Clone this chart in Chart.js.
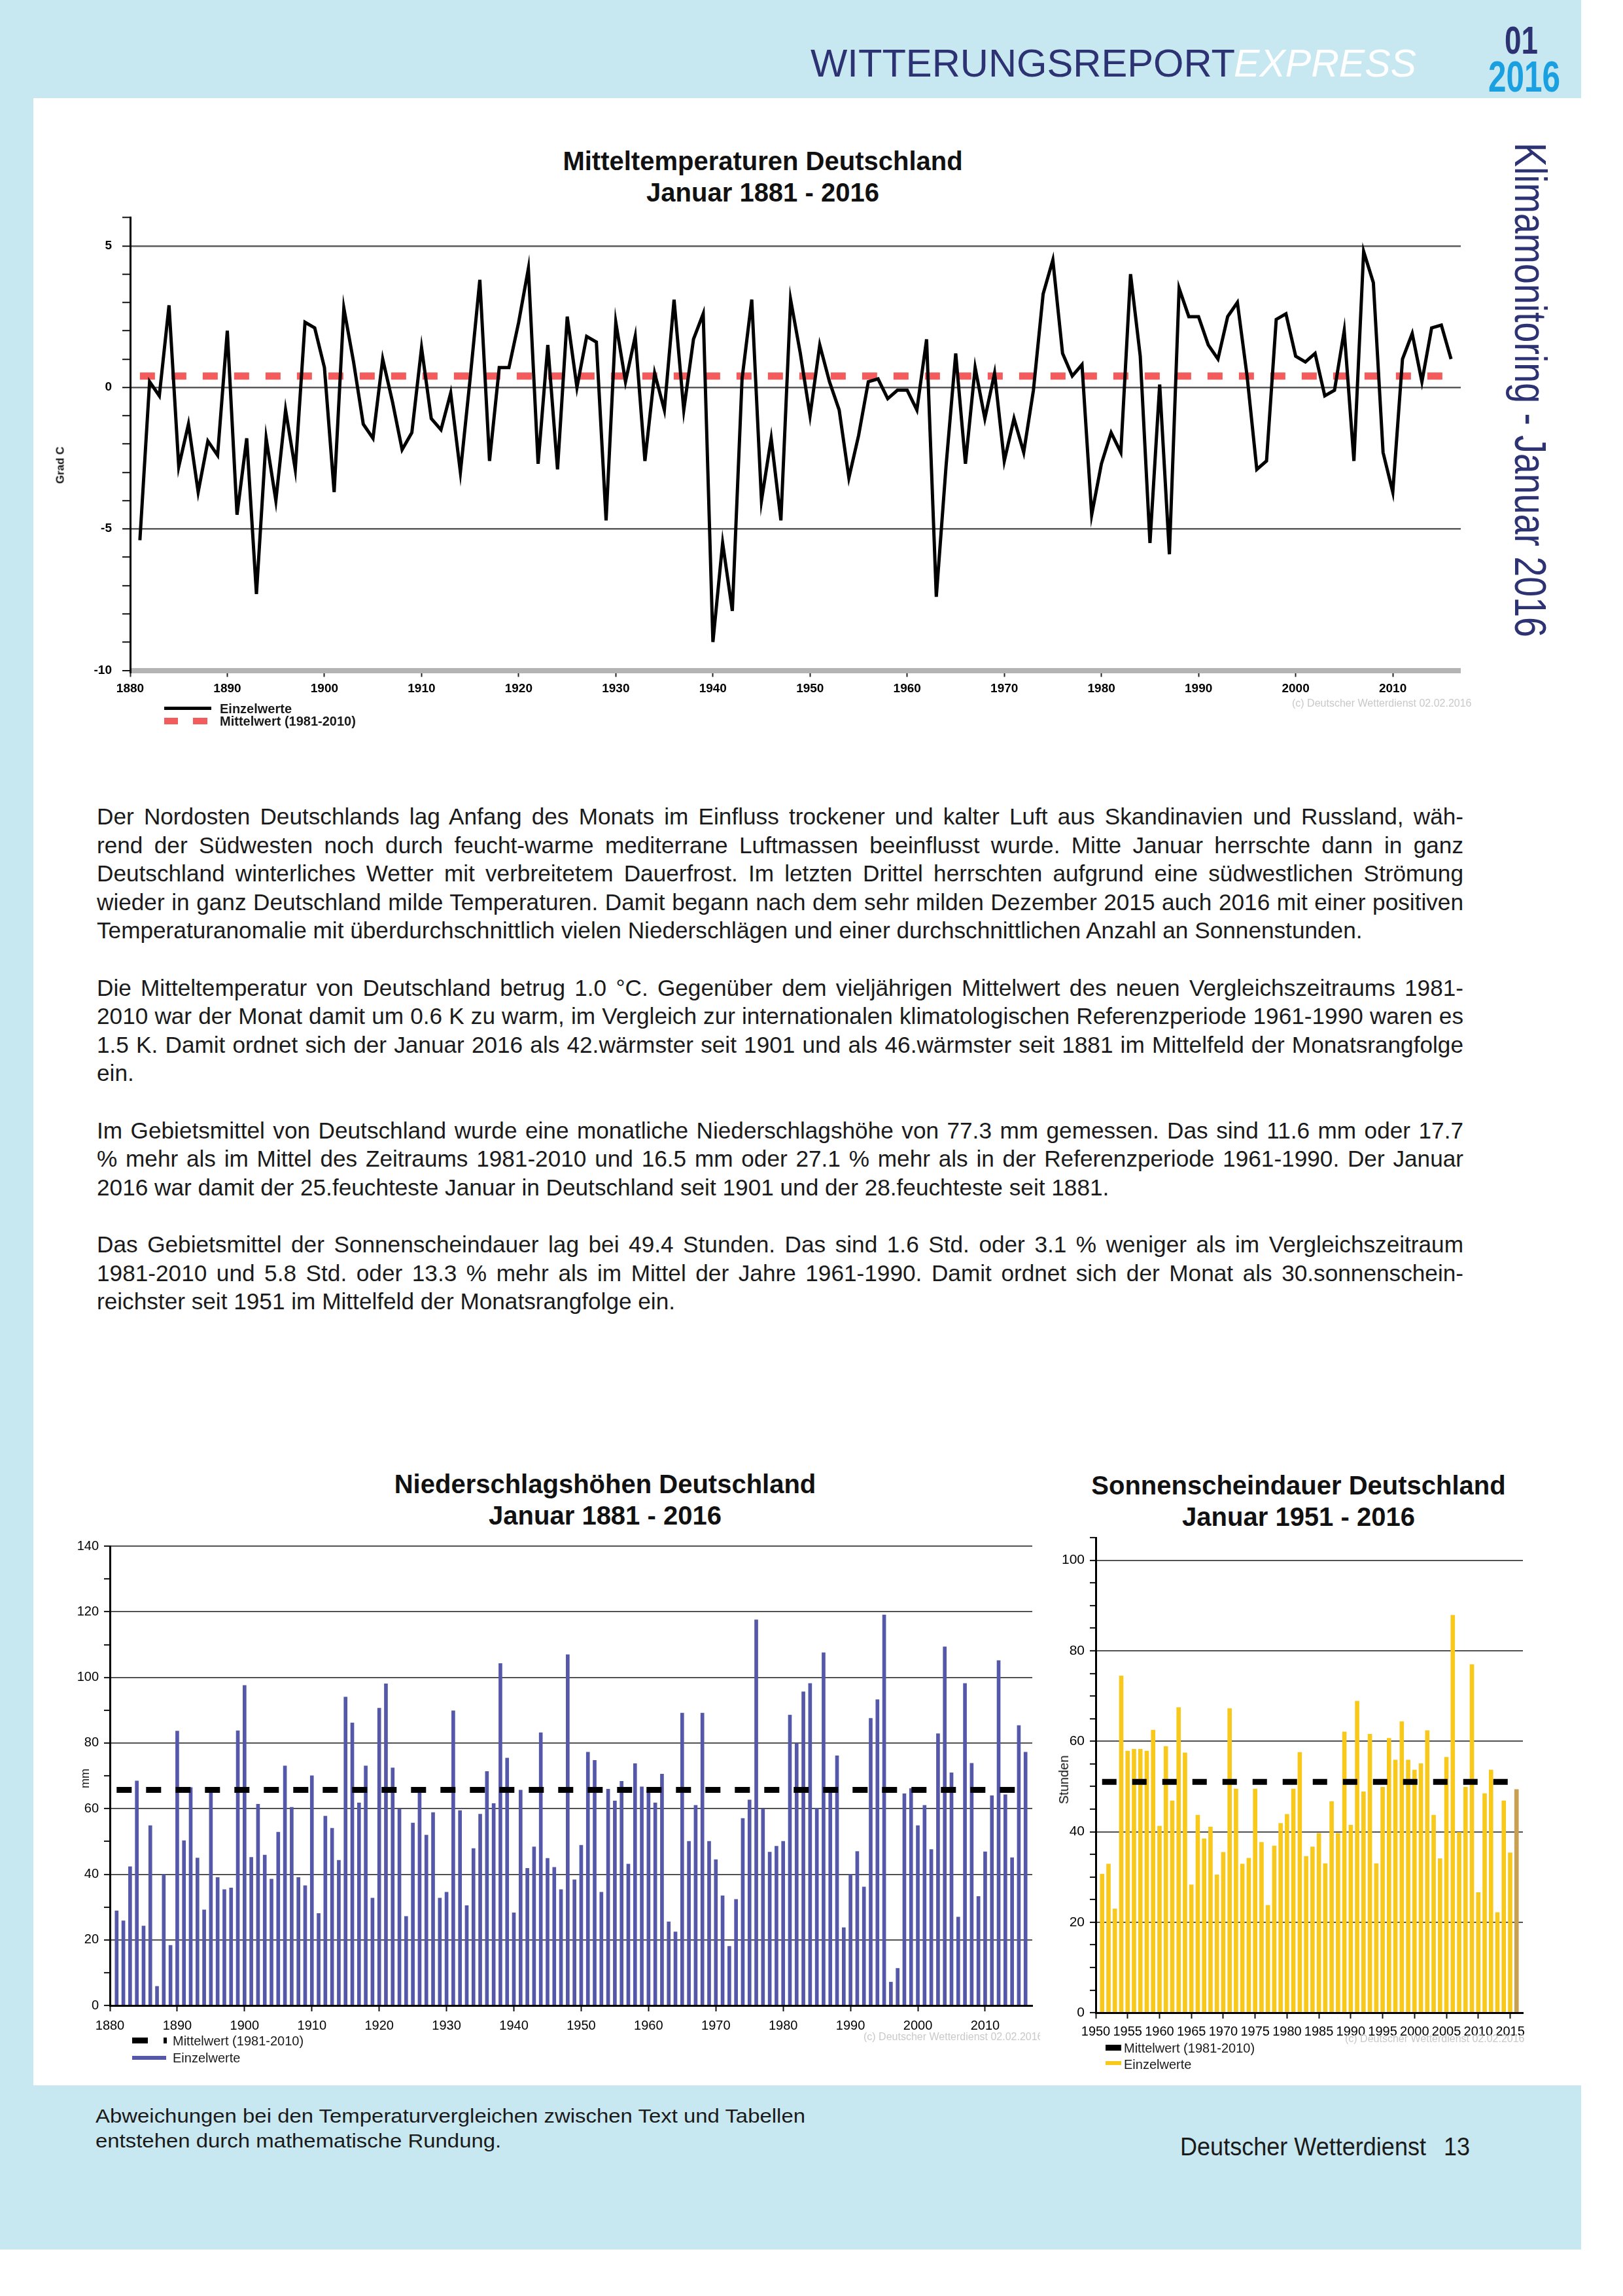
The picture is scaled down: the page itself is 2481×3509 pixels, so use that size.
<!DOCTYPE html>
<html lang="de">
<head>
<meta charset="UTF-8">
<title>Witterungsreport Express 01/2016</title>
<style>
  html, body { margin: 0; padding: 0; }
  body {
    width: 2481px; height: 3509px; position: relative; overflow: hidden;
    background: #fff; color: #1a1a1a;
    font-family: "Liberation Sans", Arial, Helvetica, sans-serif;
  }
  .band { position: absolute; background: #c8e8f1; }
  .abs { position: absolute; white-space: nowrap; line-height: 1; }
  canvas { position: absolute; }
  .title {
    position: absolute; font-weight: bold; font-size: 40px; line-height: 48px;
    text-align: center; white-space: nowrap; transform: translateX(-50%); color: #111;
  }
  .ytitle { position: absolute; white-space: nowrap; line-height: 1; transform: translate(-50%, -50%) rotate(-90deg); color: #111; }
  .sw { position: absolute; }
  .copy { position: absolute; overflow: hidden; white-space: nowrap; font-size: 16px; line-height: 1; color: #c9c9c9; }
  #text { position: absolute; left: 148px; top: 1226px; width: 2089px; line-height: 43.6px; font-size: 34px; }
  #text .j { text-align: justify; text-align-last: justify; }
  #text .gap { height: 43.6px; }
</style>
<script src="https://cdn.jsdelivr.net/npm/chart.js"></script>
</head>
<body>

<div class="band" style="left:0;top:0;width:2417px;height:150px"></div>
<div class="band" style="left:0;top:0;width:51px;height:3438px"></div>
<div class="band" style="left:0;top:3187px;width:2417px;height:251px"></div>

<div class="abs fit" id="hWit" data-w="649" style="left:1239px;top:67px;font-size:60px;color:#2d3272">WITTERUNGSREPORT</div>
<div class="abs fit" id="hExp" data-w="279" style="left:1886px;top:67px;font-size:60px;font-style:italic;color:#fff">EXPRESS</div>
<div class="abs fit" data-w="51" style="left:2300px;top:32px;font-size:60px;font-weight:bold;color:#2d3272">01</div>
<div class="abs fit" data-w="110" style="left:2275px;top:84px;font-size:66px;font-weight:bold;color:#1a9fe0">2016</div>
<div class="abs" id="vert" style="left:2374px;top:218px;font-size:68px;color:#2d3272">Klimamonitoring - Januar 2016</div>

<!-- Temperatur -->
<div class="title" style="left:1166px;top:222px">Mitteltemperaturen Deutschland<br>Januar 1881 - 2016</div>
<canvas id="tempChart" width="2200" height="850" style="left:100px;top:300px"></canvas>
<div class="ytitle" style="left:92px;top:711px;font-size:17px;font-weight:bold">Grad C</div>
<div class="sw" style="left:251px;top:1080px;width:72px;height:4.5px;background:#000"></div>
<div class="abs" style="left:336px;top:1073px;font-size:20px;font-weight:bold">Einzelwerte</div>
<div class="sw" style="left:251px;top:1097px;width:21px;height:10px;background:#f25c5c"></div>
<div class="sw" style="left:295px;top:1097px;width:22px;height:10px;background:#f25c5c"></div>
<div class="abs" style="left:336px;top:1092px;font-size:20px;font-weight:bold">Mittelwert (1981-2010)</div>
<div class="copy" style="left:1975px;top:1067px;width:320px">(c) Deutscher Wetterdienst 02.02.2016</div>

<!-- Text -->
<div id="text">
  <div class="j">Der Nordosten Deutschlands lag Anfang des Monats im Einfluss trockener und kalter Luft aus Skandinavien und Russland, wäh-</div>
  <div class="j">rend der Südwesten noch durch feucht-warme mediterrane Luftmassen beeinflusst wurde. Mitte Januar herrschte dann in ganz</div>
  <div class="j">Deutschland winterliches Wetter mit verbreitetem Dauerfrost. Im letzten Drittel herrschten aufgrund eine südwestlichen Strömung</div>
  <div class="j">wieder in ganz Deutschland milde Temperaturen. Damit begann nach dem sehr milden Dezember 2015 auch 2016 mit einer positiven</div>
  <div class="ref">Temperaturanomalie mit überdurchschnittlich vielen Niederschlägen und einer durchschnittlichen Anzahl an Sonnenstunden.</div>
  <div class="gap"></div>
  <div class="j">Die Mitteltemperatur von Deutschland betrug 1.0 °C. Gegenüber dem vieljährigen Mittelwert des neuen Vergleichszeitraums 1981-</div>
  <div class="j">2010 war der Monat damit um 0.6 K zu warm, im Vergleich zur internationalen klimatologischen Referenzperiode 1961-1990 waren es</div>
  <div class="j">1.5 K. Damit ordnet sich der Januar 2016 als 42.wärmster seit 1901 und als 46.wärmster seit 1881 im Mittelfeld der Monatsrangfolge</div>
  <div>ein.</div>
  <div class="gap"></div>
  <div class="j">Im Gebietsmittel von Deutschland wurde eine monatliche Niederschlagshöhe von 77.3 mm gemessen. Das sind 11.6 mm oder 17.7</div>
  <div class="j">% mehr als im Mittel des Zeitraums 1981-2010 und 16.5 mm oder 27.1 % mehr als in der Referenzperiode 1961-1990. Der Januar</div>
  <div>2016 war damit der 25.feuchteste Januar in Deutschland seit 1901 und der 28.feuchteste seit 1881.</div>
  <div class="gap"></div>
  <div class="j">Das Gebietsmittel der Sonnenscheindauer lag bei 49.4 Stunden. Das sind 1.6 Std. oder 3.1 % weniger als im Vergleichszeitraum</div>
  <div class="j">1981-2010 und 5.8 Std. oder 13.3 % mehr als im Mittel der Jahre 1961-1990. Damit ordnet sich der Monat als 30.sonnenschein-</div>
  <div>reichster seit 1951 im Mittelfeld der Monatsrangfolge ein.</div>
</div>

<!-- Niederschlag -->
<div class="title" style="left:925px;top:2244px">Niederschlagshöhen Deutschland<br>Januar 1881 - 2016</div>
<canvas id="precChart" width="1560" height="820" style="left:60px;top:2330px"></canvas>
<div class="ytitle" style="left:130px;top:2718px;font-size:18px">mm</div>
<div class="sw" style="left:202px;top:3114px;width:24px;height:9px;background:#000"></div>
<div class="sw" style="left:250px;top:3114px;width:5px;height:9px;background:#000"></div>
<div class="abs" style="left:264px;top:3109px;font-size:20px">Mittelwert (1981-2010)</div>
<div class="sw" style="left:202px;top:3142px;width:52px;height:6px;background:#5558a8"></div>
<div class="abs" style="left:264px;top:3135px;font-size:20px">Einzelwerte</div>
<div class="copy" style="left:1320px;top:3105px;width:270px">(c) Deutscher Wetterdienst 02.02.2016</div>

<!-- Sonnenschein -->
<div class="title" style="left:1985px;top:2246px">Sonnenscheindauer Deutschland<br>Januar 1951 - 2016</div>
<canvas id="sunChart" width="780" height="820" style="left:1590px;top:2330px"></canvas>
<div class="ytitle" style="left:1626px;top:2720px;font-size:20px">Stunden</div>
<div class="sw" style="left:1690px;top:3125px;width:24px;height:9px;background:#000"></div>
<div class="abs" style="left:1718px;top:3120px;font-size:20px">Mittelwert (1981-2010)</div>
<div class="sw" style="left:1690px;top:3150px;width:24px;height:6px;background:#f8c81a"></div>
<div class="abs" style="left:1718px;top:3145px;font-size:20px">Einzelwerte</div>
<div class="copy" style="left:2056px;top:3108px;width:286px">(c) Deutscher Wetterdienst 02.02.2016</div>

<!-- Fuss -->
<div class="abs" id="foot1" style="left:146px;top:3219px;font-size:30px">Abweichungen bei den Temperaturvergleichen zwischen Text und Tabellen</div>
<div class="abs" id="foot2" style="left:146px;top:3257px;font-size:30px">entstehen durch mathematische Rundung.</div>
<div class="abs fit" data-w="376" style="left:1804px;top:3262px;font-size:38px">Deutscher Wetterdienst</div>
<div class="abs fit" data-w="40" style="left:2207px;top:3262px;font-size:38px">13</div>

<script>
// Januar-Mitteltemperatur Deutschland (Grad C), 1881-2016
const tempFirstYear = 1881;
const tempValues = [
  -5.4, 0.2, -0.3, 2.9, -2.8, -1.3, -3.7, -1.9, -2.4, 2.0,
  -4.5, -1.8, -7.3, -1.8, -4.0, -0.8, -2.9, 2.3, 2.1, 0.7,
  -3.7, 2.8, 0.9, -1.3, -1.8, 1.0, -0.5, -2.2, -1.6, 1.4,
  -1.1, -1.5, -0.2, -3.0, 0.3, 3.8, -2.6, 0.7, 0.7, 2.3,
  4.2, -2.7, 1.5, -2.9, 2.5, 0.0, 1.8, 1.6, -4.7, 2.3,
  0.2, 1.8, -2.6, 0.5, -0.8, 3.1, -0.8, 1.7, 2.6, -9.0,
  -5.5, -7.9, 0.3, 3.1, -4.0, -1.8, -4.7, 3.1, 1.2, -1.0,
  1.5, 0.2, -0.8, -3.2, -1.7, 0.2, 0.3, -0.4, -0.1, -0.1,
  -0.8, 1.7, -7.4, -2.8, 1.2, -2.7, 0.7, -1.1, 0.5, -2.6,
  -1.1, -2.3, -0.1, 3.3, 4.5, 1.2, 0.4, 0.8, -4.5, -2.7,
  -1.6, -2.3, 4.0, 1.1, -5.5, 0.1, -5.9, 3.5, 2.5, 2.5,
  1.5, 1.0, 2.5, 3.0, 0.4, -2.9, -2.6, 2.4, 2.6, 1.1,
  0.9, 1.2, -0.3, -0.1, 2.0, -2.6, 4.8, 3.7, -2.3, -3.7,
  1.0, 1.9, 0.2, 2.1, 2.2, 1.0
];
const tempMean = 0.4;
const tempXTicks = [1880, 1890, 1900, 1910, 1920, 1930, 1940, 1950, 1960, 1970, 1980, 1990, 2000, 2010];

// Januar-Niederschlag Deutschland (mm), 1881-2016
const precFirstYear = 1881;
const precValues = [
  28.9, 25.9, 42.4, 68.5, 24.3, 54.9, 5.9, 40.0, 18.4, 83.7,
  50.3, 66.5, 45.0, 29.2, 66.0, 39.1, 35.4, 35.9, 83.8, 97.6,
  45.2, 61.4, 45.9, 38.6, 52.9, 73.1, 60.5, 39.1, 36.6, 70.1,
  28.1, 57.8, 54.1, 44.3, 94.1, 86.2, 61.8, 73.1, 32.8, 90.7,
  98.1, 72.5, 60.0, 27.2, 55.7, 66.5, 52.0, 58.9, 32.8, 34.6,
  89.9, 59.5, 30.5, 47.9, 58.4, 71.4, 61.6, 104.3, 75.5, 28.3,
  65.7, 41.9, 48.4, 83.2, 44.9, 42.2, 35.4, 107.0, 38.4, 48.9,
  77.3, 74.8, 34.6, 66.0, 62.4, 68.4, 43.2, 73.8, 66.7, 65.4,
  61.8, 70.6, 25.6, 22.5, 89.2, 50.1, 61.1, 89.2, 50.1, 44.5,
  33.5, 18.1, 32.4, 57.1, 62.7, 117.6, 60.0, 46.8, 48.6, 50.1,
  88.6, 80.0, 95.7, 98.2, 60.2, 107.6, 65.7, 76.2, 23.8, 40.0,
  47.0, 36.2, 87.6, 93.3, 119.1, 7.2, 11.4, 64.6, 66.2, 54.9,
  61.1, 47.6, 82.9, 109.4, 71.0, 27.0, 98.2, 73.9, 33.3, 46.9,
  64.0, 105.2, 64.3, 45.1, 85.4, 77.3
];
const precMean = 65.7;
const precXTicks = [1880, 1890, 1900, 1910, 1920, 1930, 1940, 1950, 1960, 1970, 1980, 1990, 2000, 2010];

// Januar-Sonnenscheindauer Deutschland (Stunden), 1951-2016
const sunFirstYear = 1951;
const sunValues = [
  30.7, 32.9, 23.0, 74.5, 57.9, 58.3, 58.3, 57.9, 62.5, 41.3,
  58.9, 46.9, 67.5, 57.5, 28.3, 43.7, 38.5, 41.1, 30.5, 35.5,
  67.3, 49.5, 32.9, 34.2, 49.5, 37.7, 23.8, 36.9, 41.9, 43.9,
  49.5, 57.6, 34.6, 36.7, 39.7, 33.0, 46.7, 39.7, 62.1, 41.5,
  68.9, 48.9, 61.6, 33.0, 49.9, 60.7, 55.9, 64.4, 55.9, 53.7,
  55.1, 62.4, 43.7, 34.1, 56.5, 87.9, 39.9, 49.9, 77.0, 26.6,
  48.5, 53.7, 22.2, 46.9, 35.4, 49.4
];
const sunMean = 51.0;
const sunHighlightYear = 2016;
const sunXTicks = [1950, 1955, 1960, 1965, 1970, 1975, 1980, 1985, 1990, 1995, 2000, 2005, 2010, 2015];

// ---- Text anpassen ----
function scaleTo(el, w) {
  const nat = el.getBoundingClientRect().width;
  el.style.transformOrigin = '0 0';
  el.style.transform = 'scaleX(' + (w / nat) + ')';
}
document.querySelectorAll('.fit').forEach(el => scaleTo(el, +el.dataset.w));

const vert = document.getElementById('vert');
const vw = vert.getBoundingClientRect().width;
vert.style.transformOrigin = '0 0';
vert.style.transform = 'rotate(90deg) scaleX(' + (756 / vw) + ')';

const f1 = document.getElementById('foot1'), f2 = document.getElementById('foot2');
const fs = 1085 / f1.getBoundingClientRect().width;
[f1, f2].forEach(el => { el.style.transformOrigin = '0 0'; el.style.transform = 'scaleX(' + fs + ')'; });

const text = document.getElementById('text');
const probe = document.createElement('span');
probe.style.cssText = 'position:absolute;visibility:hidden;white-space:nowrap;font-size:100px;';
document.body.appendChild(probe);
probe.textContent = text.querySelector('.ref').textContent;
let size = 100 * 1973 / probe.getBoundingClientRect().width;
text.querySelectorAll('.j').forEach(d => {
  probe.textContent = d.textContent;
  const w = probe.getBoundingClientRect().width * size / 100;
  if (w > 2084) size = size * 2084 / w;
});
text.style.fontSize = size + 'px';
probe.remove();

// ---- Diagramme ----
Chart.defaults.font.family = '"Liberation Sans", Arial, sans-serif';
Chart.defaults.color = '#000';

function points(first, values) {
  return values.map((v, i) => ({ x: first + i, y: v }));
}
function meanLine(first, values, mean) {
  return [{ x: first, y: mean }, { x: first + values.length - 1, y: mean }];
}
// Lage der Zeichenfläche im Canvas festlegen
function frame(box, area) {
  return {
    padding: { left: 0, top: area.top - box.top, right: box.left + box.width - area.right, bottom: 0 },
    yWidth: area.left - box.left,
    xHeight: box.top + box.height - area.bottom
  };
}
const none = 'rgba(0,0,0,0)';

const tf = frame({ left: 100, top: 300, width: 2200, height: 850 },
                 { left: 199, top: 332.5, right: 2233, bottom: 1024.5 });
new Chart(document.getElementById('tempChart'), {
  type: 'line',
  data: {
    datasets: [
      { label: 'Einzelwerte', data: points(tempFirstYear, tempValues),
        borderColor: '#000', borderWidth: 5, pointRadius: 0, tension: 0, borderJoinStyle: 'miter', order: 0 },
      { label: 'Mittelwert (1981-2010)', data: meanLine(tempFirstYear, tempValues, tempMean),
        borderColor: '#f25c5c', borderWidth: 11, borderDash: [23, 25], pointRadius: 0, order: 1 }
    ]
  },
  options: {
    responsive: false, animation: false, devicePixelRatio: 1,
    layout: { padding: tf.padding },
    plugins: { legend: { display: false }, tooltip: { enabled: false } },
    scales: {
      x: {
        type: 'linear', min: 1880, max: 2017,
        afterBuildTicks: s => { s.ticks = tempXTicks.map(v => ({ value: v })); },
        afterFit: s => { s.height = tf.xHeight; s.paddingLeft = 0; s.paddingRight = 0; },
        ticks: { autoSkip: false, maxRotation: 0, padding: 7, font: { size: 19, weight: 'bold' }, callback: v => String(v) },
        grid: { drawOnChartArea: false, tickLength: 10, tickColor: '#222', tickWidth: 2 },
        border: { display: false }
      },
      y: {
        min: -10, max: 6,
        afterFit: s => { s.width = tf.yWidth; s.paddingTop = 0; s.paddingBottom = 0; },
        ticks: { stepSize: 1, padding: 16, font: { size: 19, weight: 'bold' }, callback: v => (v % 5 === 0 ? String(v) : '') },
        grid: {
          color: c => c.tick.value === -10 ? '#b4b4b4' : (c.tick.value % 5 === 0 ? '#5a5a5a' : none),
          lineWidth: c => c.tick.value === -10 ? 8 : 2.5,
          tickColor: '#111', tickWidth: 2, tickLength: 12
        },
        border: { color: '#000', width: 3 }
      }
    }
  }
});

function barOptions(f, xMin, xMax, xTicks, yMax, fontSize, yLabelSize, tickPad) {
  return {
    responsive: false, animation: false, devicePixelRatio: 1,
    layout: { padding: f.padding },
    plugins: { legend: { display: false }, tooltip: { enabled: false } },
    scales: {
      x: {
        type: 'linear', min: xMin, max: xMax, offset: false,
        afterBuildTicks: s => { s.ticks = xTicks.map(v => ({ value: v })); },
        afterFit: s => { s.height = f.xHeight; s.paddingLeft = 0; s.paddingRight = 0; },
        ticks: { autoSkip: false, maxRotation: 0, padding: tickPad, font: { size: fontSize }, callback: v => String(v) },
        grid: { offset: false, drawOnChartArea: false, tickLength: 9, tickColor: '#111', tickWidth: 2 },
        border: { color: '#000', width: 3 }
      },
      y: {
        min: 0, max: yMax, z: 1,
        afterFit: s => { s.width = f.yWidth; s.paddingTop = 0; s.paddingBottom = 0; },
        ticks: { stepSize: 5, padding: 8, font: { size: yLabelSize }, callback: v => (v % 20 === 0 ? String(v) : '') },
        grid: {
          color: c => (c.tick.value % 20 === 0 && c.tick.value > 0) ? '#3a3a3a' : none,
          lineWidth: 1.8, tickColor: '#111', tickWidth: 2, tickLength: 9
        },
        border: { color: '#000', width: 3 }
      }
    }
  };
}

const pf = frame({ left: 60, top: 2330, width: 1560, height: 820 },
                 { left: 168, top: 2363, right: 1578, bottom: 3065 });
new Chart(document.getElementById('precChart'), {
  type: 'bar',
  data: {
    datasets: [
      { type: 'line', label: 'Mittelwert (1981-2010)', data: meanLine(precFirstYear, precValues, precMean),
        borderColor: '#000', borderWidth: 9, borderDash: [23, 22], pointRadius: 0, order: 0 },
      { type: 'bar', label: 'Einzelwerte', data: points(precFirstYear, precValues),
        backgroundColor: '#5558a8', barPercentage: 0.55, categoryPercentage: 1, order: 1 }
    ]
  },
  options: barOptions(pf, 1880, 2017, precXTicks, 140, 20, 20, 10)
});

const sf = frame({ left: 1590, top: 2330, width: 780, height: 820 },
                 { left: 1675, top: 2350, right: 2328, bottom: 3076 });
new Chart(document.getElementById('sunChart'), {
  type: 'bar',
  data: {
    datasets: [
      { type: 'line', label: 'Mittelwert (1981-2010)', data: meanLine(sunFirstYear, sunValues, sunMean),
        borderColor: '#000', borderWidth: 9, borderDash: [22, 24], pointRadius: 0, order: 0 },
      { type: 'bar', label: 'Einzelwerte', data: points(sunFirstYear, sunValues),
        backgroundColor: c => (c.raw && c.raw.x === sunHighlightYear) ? '#c9a050' : '#f8c81a',
        barPercentage: 0.68, categoryPercentage: 1, order: 1 }
    ]
  },
  options: barOptions(sf, 1950, 2017, sunXTicks, 105, 20, 21, 8)
});
</script>
</body>
</html>
